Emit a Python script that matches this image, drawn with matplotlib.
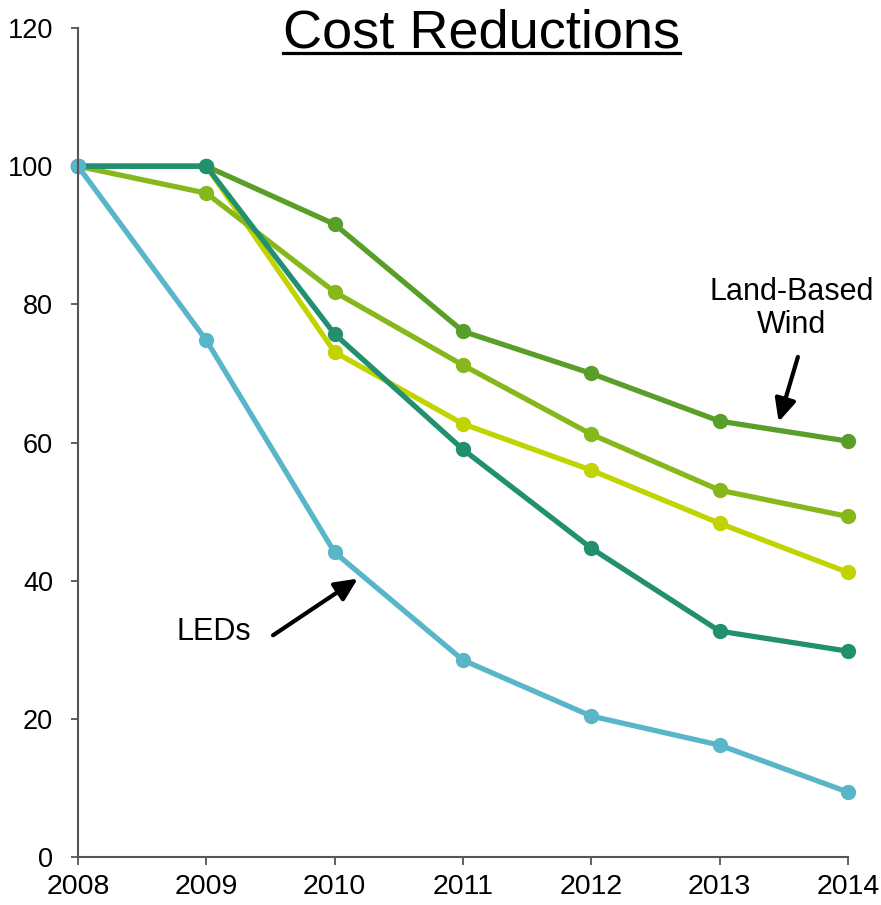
import matplotlib
matplotlib.use("Agg")
import matplotlib.pyplot as plt
from matplotlib.lines import Line2D

plt.rcParams['font.family'] = ['Liberation Sans', 'DejaVu Sans']

years = [2008, 2009, 2010, 2011, 2012, 2013, 2014]

# Cost index (2008 = 100) per technology
series_yellow = [100, 100, 73.1, 62.7, 56.0, 48.3, 41.2]
series_lime = [100, 96.1, 81.8, 71.2, 61.2, 53.1, 49.3]
land_wind = [100, 100, 91.6, 76.1, 70.0, 63.1, 60.2]
series_teal = [100, 100, 75.7, 59.0, 44.7, 32.7, 29.8]
leds = [100, 74.8, 44.1, 28.5, 20.4, 16.2, 9.4]

y_ticks = [0, 20, 40, 60, 80, 100, 120]

series = [
    (series_yellow, "#c2d400"),
    (series_lime, "#86b81c"),
    (land_wind, "#5a9e2a"),
    (series_teal, "#21906f"),
    (leds, "#58b6c8"),
]

fig = plt.figure(figsize=(8.81, 9.05), dpi=100)
ax = fig.add_axes([0.0885, 0.053, 0.874, 0.916])

for vals, col in series:
    ax.plot(years, vals, color=col, lw=3.8, marker='o', ms=10,
            solid_capstyle='round', solid_joinstyle='round', clip_on=False)

ax.set_xlim(2008, 2014)
ax.set_ylim(0, 120)
ax.set_xticks(years)
ax.set_yticks(y_ticks)
ax.tick_params(axis='both', width=1.3, color='#555555', direction='out')
ax.tick_params(axis='x', labelsize=20.5, length=6, pad=6)
ax.tick_params(axis='y', labelsize=19.5, length=5, pad=13)
for s in ['top', 'right']:
    ax.spines[s].set_visible(False)
for s in ['left', 'bottom']:
    ax.spines[s].set_color('#555555')
    ax.spines[s].set_linewidth(1.5)

# Title with underline
title = fig.text(0.547, 0.948, "Cost Reductions", ha='center', va='baseline',
                 fontsize=39, color='black')
fig.canvas.draw()
bb = title.get_window_extent().transformed(fig.transFigure.inverted())
fig.add_artist(Line2D([bb.x0, bb.x1], [0.9414, 0.9414],
                      transform=fig.transFigure, color='black', lw=2.3))

# Annotations
arrow_kw = dict(arrowstyle='-|>,head_length=0.85,head_width=0.4', color='black',
                lw=3.0, mutation_scale=16, shrinkA=0, shrinkB=0)
ax.text(2013.56, 79.4, "Land-Based\nWind", ha='center', va='center',
        fontsize=22, linespacing=1.15)
ax.annotate("", xy=(2013.46, 63.0), xytext=(2013.61, 72.4),
            arrowprops=arrow_kw)
ax.text(2009.06, 32.6, "LEDs", ha='center', va='center', fontsize=22)
ax.annotate("", xy=(2010.18, 40.3), xytext=(2009.52, 32.1),
            arrowprops=arrow_kw)

fig.savefig("out.png", dpi=100)
